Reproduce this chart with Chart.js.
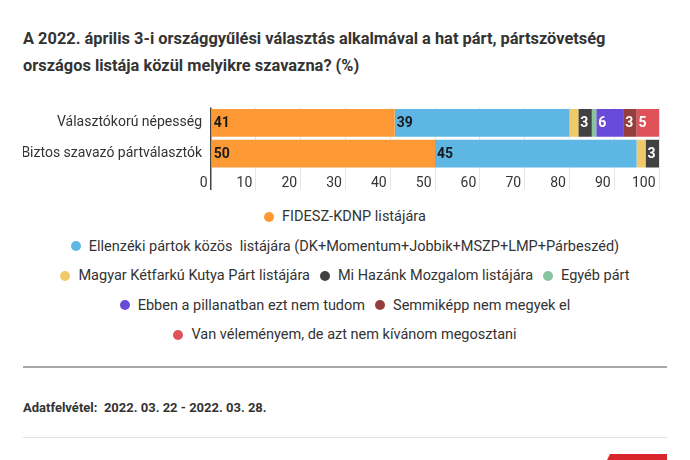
<!DOCTYPE html>
<html><head><meta charset="utf-8">
<script src="https://cdn.jsdelivr.net/npm/chart.js@4"></script>
<style>
html,body{margin:0;padding:0;background:#fff;}
body{width:690px;height:460px;overflow:hidden;position:relative;font-family:Roboto,"Noto Sans",sans-serif;color:#333;}
#title{position:absolute;left:23px;top:25px;font-weight:bold;font-size:16.4px;line-height:27px;color:#333;white-space:nowrap;}
#wrap{position:absolute;left:0;top:90px;width:690px;height:102px;}
#legend{position:absolute;left:23px;width:644px;top:202px;font-size:14.5px;color:#333;}
.row{height:29.5px;display:flex;justify-content:center;align-items:center;}
.item{display:flex;align-items:center;margin:0 5px;white-space:pre;}
.dot{width:10px;height:10px;border-radius:50%;margin-right:8px;flex:none;}
#line1{position:absolute;left:23px;width:644px;top:366px;height:2px;background:#a8a8a8;}
#foot{position:absolute;left:23px;top:398px;font-weight:bold;font-size:13px;line-height:20px;white-space:pre;color:#333;}
#line2{position:absolute;left:23px;width:644px;top:437px;height:1px;background:#e0e0e0;}
#logo{position:absolute;left:606px;top:454px;width:61px;height:8px;background:#d8262c;clip-path:polygon(4px 0,100% 0,100% 100%,0 100%);}
</style></head>
<body>
<div id="title">A 2022. április 3-i országgyűlési választás alkalmával a hat párt, pártszövetség<br>országos listája közül melyikre szavazna? (%)</div>
<div id="wrap"><canvas id="c" width="690" height="102"></canvas></div>
<div id="legend"></div>
<div id="line1"></div>
<div id="foot">Adatfelvétel:  2022. 03. 22 - 2022. 03. 28.</div>
<div id="line2"></div>
<div id="logo"></div>
<script>
// ---- data ----
const categories = ['Választókorú népesség', 'Biztos szavazó pártválasztók'];
const seriesNames = [
  'FIDESZ-KDNP listájára',
  'Ellenzéki pártok közös  listájára (DK+Momentum+Jobbik+MSZP+LMP+Párbeszéd)',
  'Magyar Kétfarkú Kutya Párt listájára',
  'Mi Hazánk Mozgalom listájára',
  'Egyéb párt',
  'Ebben a pillanatban ezt nem tudom',
  'Semmiképp nem megyek el',
  'Van véleményem, de azt nem kívánom megosztani'
];
const fidesz    = [41, 50];
const ellenzek  = [39, 45];
const mkkp      = [2, 2];
const miHazank  = [3, 3];
const egyeb     = [1, 0];
const nemTudom  = [6, 0];
const semmikepp = [3, 0];
const titkos    = [5, 0];
const xTicks = [0, 10, 20, 30, 40, 50, 60, 70, 80, 90, 100];

// ---- styles ----
const seriesColors = ['#fd9a36', '#5db6e4', '#f0c96a', '#414141', '#89c39f', '#6a4ad8', '#963d3d', '#e0525a'];
const labelColors  = ['#1a1a1a', '#1a1a1a', '#1a1a1a', '#ffffff', '#ffffff', '#ffffff', '#ffffff', '#ffffff'];
const legendRows = [[0], [1], [2, 3, 4], [5, 6], [7]];

const seriesValues = [fidesz, ellenzek, mkkp, miHazank, egyeb, nemTudom, semmikepp, titkos];

Chart.defaults.font.family = 'Roboto';
Chart.defaults.color = '#333';

const valueLabels = {
  id: 'valueLabels',
  afterDatasetsDraw(chart) {
    const ctx = chart.ctx;
    ctx.save();
    ctx.font = 'bold 14px Roboto';
    ctx.textBaseline = 'middle';
    ctx.textAlign = 'left';
    chart.data.datasets.forEach((ds, di) => {
      const meta = chart.getDatasetMeta(di);
      meta.data.forEach((bar, i) => {
        const v = ds.data[i];
        if (v < 3) return;
        ctx.fillStyle = ds.labelColor;
        ctx.fillText(String(v), Math.min(bar.base, bar.x) + 2, bar.y + 1);
      });
    });
    ctx.restore();
  }
};

const chart = new Chart(document.getElementById('c'), {
  type: 'bar',
  data: {
    labels: categories,
    datasets: seriesValues.map((vals, i) => ({
      label: seriesNames[i],
      data: vals,
      backgroundColor: seriesColors[i],
      labelColor: labelColors[i],
      borderWidth: 0,
      barPercentage: 0.9,
      categoryPercentage: 1
    }))
  },
  options: {
    indexAxis: 'y',
    responsive: false,
    animation: false,
    layout: { padding: { left: 23, right: 31, top: 10, bottom: 0 } },
    plugins: { legend: { display: false }, tooltip: { enabled: false } },
    scales: {
      x: {
        stacked: true, min: 0, max: 100,
        afterBuildTicks: s => { s.ticks = xTicks.map(v => ({ value: v })); },
        afterFit: s => { s.height = 23; },
        border: { display: false },
        grid: {
          color: c => (c.tick && c.tick.value === 0) ? '#444' : '#e6e6e6',
          lineWidth: c => (c.tick && c.tick.value === 0) ? 1.5 : 1,
          tickLength: 21,
          drawTicks: true
        },
        ticks: {
          align: 'end', padding: -15, autoSkip: false, maxRotation: 0,
          color: '#333', font: { size: 14 },
          callback: v => v + ' '
        }
      },
      y: {
        stacked: true,
        grid: { display: false, drawTicks: false },
        border: { display: false },
        afterFit: s => { s.width = 188; },
        ticks: { padding: 9, color: '#333', font: { size: 14 } }
      }
    }
  },
  plugins: [valueLabels]
});

// HTML legend built from the chart's datasets
const legendEl = document.getElementById('legend');
legendRows.forEach(row => {
  const r = document.createElement('div');
  r.className = 'row';
  row.forEach(idx => {
    const ds = chart.data.datasets[idx];
    const it = document.createElement('span');
    it.className = 'item';
    const d = document.createElement('span');
    d.className = 'dot';
    d.style.background = ds.backgroundColor;
    const t = document.createElement('span');
    t.textContent = ds.label;
    it.appendChild(d); it.appendChild(t);
    r.appendChild(it);
  });
  legendEl.appendChild(r);
});
</script>
</body></html>
